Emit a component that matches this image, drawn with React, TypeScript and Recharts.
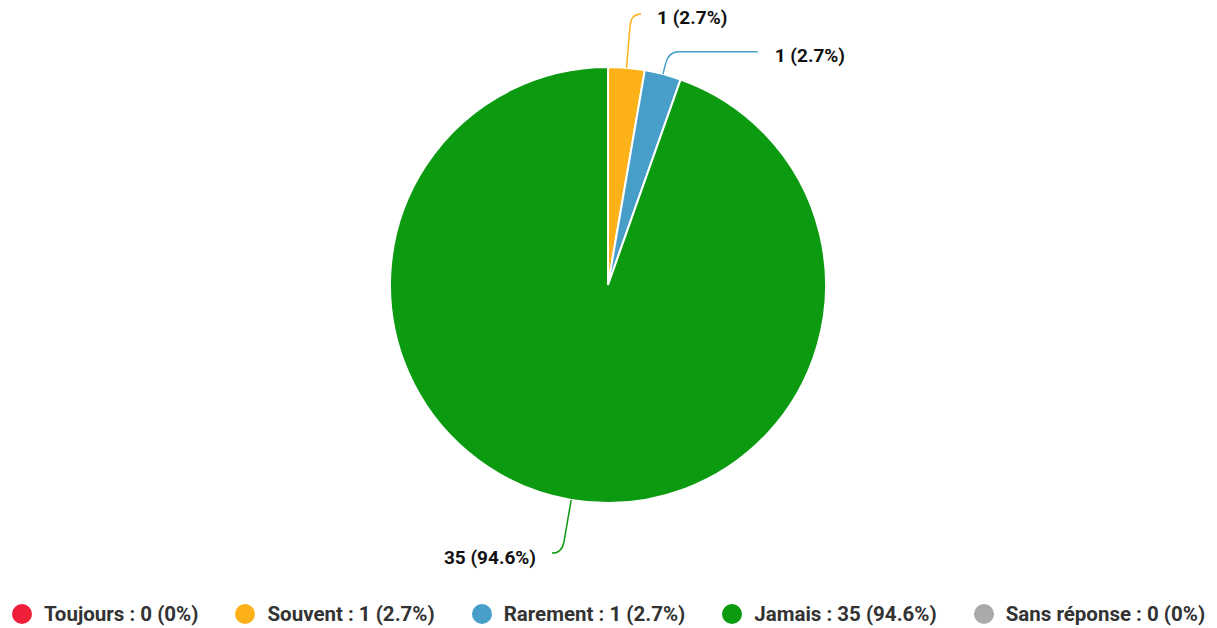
import { Cell, Legend, Pie, PieChart } from "recharts";

const categories = ["Toujours", "Souvent", "Rarement", "Jamais", "Sans réponse"];
const counts = [0, 1, 1, 35, 0];
const COLORS = ["#ef1f39", "#fdb118", "#479ec9", "#0b9a10", "#aaaaaa"];

// label placement tweaks (pushed down / out to avoid overlap)
const LABEL_TWEAK: Record<string, { dy: number; extend: number }> = {
  Rarement: { dy: 30, extend: 80 },
};

const total = counts.reduce((a, b) => a + b, 0);
const data = categories.map((name, i) => ({ name, value: counts[i] }));

const pct = (v: number) => {
  const p = (v / total) * 100;
  return p === 0 ? "0%" : `${p.toFixed(1)}%`;
};

const RAD = Math.PI / 180;

function renderLabel(props: any) {
  const { cx, cy, midAngle, outerRadius, value, index, name } = props;
  if (!value) return null;
  const color = COLORS[index];
  const tw = LABEL_TWEAK[name] ?? { dy: 0, extend: 0 };
  const cos = Math.cos(midAngle * RAD);
  const sin = Math.sin(midAngle * RAD);
  const sx = cx + outerRadius * cos;
  const sy = cy - outerRadius * sin;
  const ey = cy - (outerRadius + 54) * sin + tw.dy;
  const t = (cy - ey) / sin;
  const px = cx + t * cos;
  const right = cos >= 0;
  const sign = right ? 1 : -1;
  const ex = px + sign * (9 + tw.extend);
  const bx = cx + (t - 12) * cos;
  const by = cy - (t - 12) * sin;
  const d = `M${sx},${sy} L${bx},${by} Q${px},${ey} ${px + sign * 10},${ey} L${ex},${ey}`;
  return (
    <g>
      <path d={d} stroke={color} strokeWidth={1.5} fill="none" />
      <text
        x={right ? ex + 17 : ex - 17}
        y={ey + 4}
        textAnchor={right ? "start" : "end"}
        dominantBaseline="central"
        fontFamily="Roboto"
        fontWeight={700}
        fontSize={19}
        fill="#111"
      >
        {`${value} (${pct(value)})`}
      </text>
    </g>
  );
}

function LegendRow() {
  return (
    <div
      style={{
        display: "flex",
        justifyContent: "center",
        alignItems: "center",
        gap: 37,
        height: 28,
        fontFamily: "Roboto",
        fontWeight: 700,
        fontSize: 20.5,
        color: "#333",
      }}
    >
      {categories.map((c, i) => (
        <div key={c} style={{ display: "flex", alignItems: "center" }}>
          <span
            style={{
              width: 20,
              height: 20,
              borderRadius: 10,
              background: COLORS[i],
              display: "inline-block",
              marginRight: 12,
            }}
          />
          <span>{`${c} : ${counts[i]} (${pct(counts[i])})`}</span>
        </div>
      ))}
    </div>
  );
}

export default function App() {
  return (
    <div style={{ position: "absolute", left: 0, top: 0, width: 1217, height: 628, background: "#fff" }}>
      <PieChart width={1217} height={628} margin={{ top: 0, right: 0, bottom: 0, left: 0 }}>
        <Pie
          data={data}
          dataKey="value"
          nameKey="name"
          cx={608}
          cy={285}
          outerRadius={218}
          startAngle={90}
          endAngle={-270}
          stroke="#fff"
          strokeWidth={2}
          label={renderLabel}
          labelLine={false}
          isAnimationActive={false}
        >
          {data.map((d, i) => (
            <Cell key={d.name} fill={COLORS[i]} />
          ))}
        </Pie>
        <Legend
          verticalAlign="bottom"
          content={() => <LegendRow />}
          wrapperStyle={{ left: 0, bottom: 0, width: 1217 }}
        />
      </PieChart>
    </div>
  );
}
